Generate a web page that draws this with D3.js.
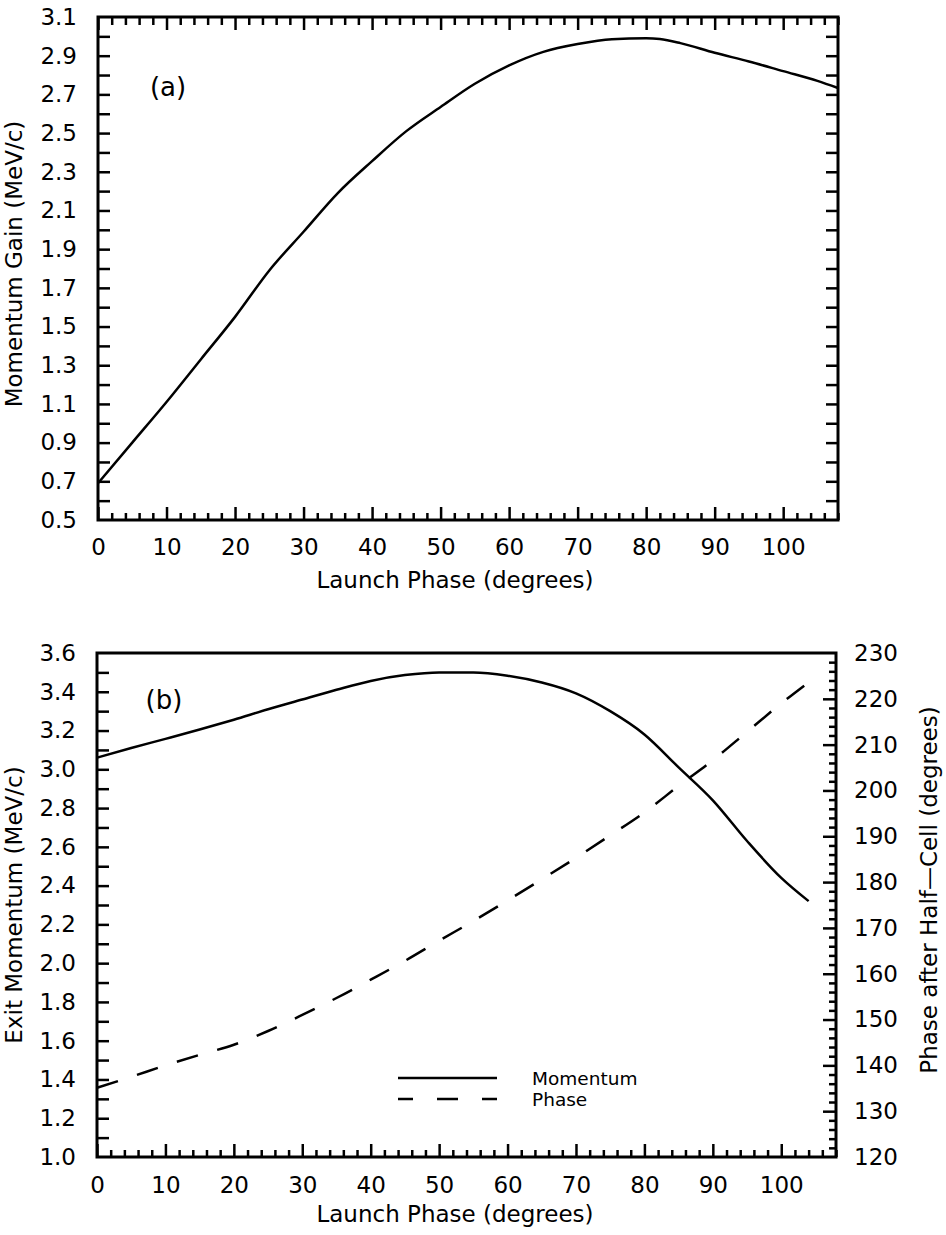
<!DOCTYPE html>
<html>
<head>
<meta charset="utf-8">
<script src="https://cdn.jsdelivr.net/npm/d3@7"></script>
<style>
  html, body { margin: 0; padding: 0; background: #fff; }
  svg { display: block; }
  text { font-family: "DejaVu Sans", sans-serif; fill: #000; }
</style>
</head>
<body>
<svg id="chart" width="946" height="1235"></svg>
<script>
// (a) momentum gain vs launch phase
const launchPhaseA = [0, 5, 10, 15, 20, 25, 30, 35, 40, 45, 50, 55, 60, 65, 70, 75, 80, 82, 85, 90, 95, 100, 105, 108];
const momentumGain = [0.69, 0.90, 1.11, 1.33, 1.55, 1.79, 1.99, 2.19, 2.355, 2.51, 2.635, 2.755, 2.85, 2.92, 2.96, 2.985, 2.99, 2.986, 2.965, 2.915, 2.87, 2.82, 2.77, 2.733];

// (b) exit momentum and phase after half-cell vs launch phase
const launchPhaseB = [0, 5, 10, 15, 20, 25, 30, 35, 40, 45, 50, 55, 60, 65, 70, 75, 80, 85, 90, 95, 100, 104];
const exitMomentum = [3.06, 3.11, 3.157, 3.205, 3.256, 3.31, 3.36, 3.41, 3.456, 3.486, 3.50, 3.50, 3.483, 3.448, 3.392, 3.30, 3.18, 3.01, 2.84, 2.63, 2.44, 2.32];
const exitPhase = [135.1, 137.5, 140.0, 142.3, 144.5, 147.5, 151.0, 154.7, 158.7, 162.8, 167.2, 171.5, 176.0, 180.6, 185.3, 190.2, 195.2, 201.0, 206.6, 212.8, 219.0, 223.6];

// tick labels
const launchTickLabels = [0, 10, 20, 30, 40, 50, 60, 70, 80, 90, 100];
const gainTickLabels = [0.5, 0.7, 0.9, 1.1, 1.3, 1.5, 1.7, 1.9, 2.1, 2.3, 2.5, 2.7, 2.9, 3.1];
const momentumTickLabels = [1.0, 1.2, 1.4, 1.6, 1.8, 2.0, 2.2, 2.4, 2.6, 2.8, 3.0, 3.2, 3.4, 3.6];
const phaseTickLabels = [120, 130, 140, 150, 160, 170, 180, 190, 200, 210, 220, 230];

const svg = d3.select("#chart");
const FONT = 23;
const TICK_W = 2.5;

const boxA = { left: 98, right: 838, top: 17, bottom: 520 };
const boxB = { left: 97, right: 836, top: 653, bottom: 1157 };

// scales
const xA = d3.scaleLinear().domain([0, 108]).range([boxA.left, boxA.right]);
const yA = d3.scaleLinear().domain([0.5, 3.1]).range([boxA.bottom, boxA.top]);
const xB = d3.scaleLinear().domain([0, 108]).range([boxB.left, boxB.right]);
const yB = d3.scaleLinear().domain([1.0, 3.6]).range([boxB.bottom, boxB.top]);
const yB2 = d3.scaleLinear().domain([120, 230]).range([boxB.bottom, boxB.top]);

// tick-only axis (marks point into the plot)
function tickMarks(axisFn, scale, values, len, transform) {
  const g = svg.append("g").attr("transform", transform)
    .call(axisFn(scale).tickValues(values).tickSize(-len).tickSizeOuter(0).tickFormat(""));
  g.select(".domain").remove();
  g.selectAll("line").attr("stroke", "#000").attr("stroke-width", TICK_W);
  return g;
}

// label-only axis
function tickLabels(axisFn, scale, values, pad, fmt, transform) {
  const g = svg.append("g").attr("transform", transform)
    .call(axisFn(scale).tickValues(values).tickSize(0).tickSizeOuter(0).tickPadding(pad).tickFormat(fmt));
  g.select(".domain").remove();
  g.selectAll("line").remove();
  g.attr("font-family", null).attr("font-size", null);
  g.selectAll("text").style("font-size", FONT + "px");
  return g;
}

const every2 = d3.range(0, 108.001, 2);
const minor2 = every2.filter(v => Math.round(v) % 10 !== 0);
const major10 = every2.filter(v => Math.round(v) % 10 === 0);

// ---------- panel (a) ----------
tickMarks(d3.axisBottom, xA, minor2, 7, `translate(0,${boxA.bottom})`);
tickMarks(d3.axisBottom, xA, major10, 13, `translate(0,${boxA.bottom})`);
tickMarks(d3.axisTop, xA, minor2, 8, `translate(0,${boxA.top})`);
tickMarks(d3.axisTop, xA, major10, 13, `translate(0,${boxA.top})`);
const gainSteps = d3.range(6, 31).map(v => v / 10);
tickMarks(d3.axisLeft, yA, gainSteps, 12, `translate(${boxA.left},0)`);
tickMarks(d3.axisRight, yA, gainSteps, 12, `translate(${boxA.right},0)`);

tickLabels(d3.axisBottom, xA, launchTickLabels, 19, d3.format("d"), `translate(0,${boxA.bottom})`);
tickLabels(d3.axisLeft, yA, gainTickLabels, 21, d3.format(".1f"), `translate(${boxA.left},0)`);

svg.append("rect")
  .attr("x", boxA.left).attr("y", boxA.top)
  .attr("width", boxA.right - boxA.left).attr("height", boxA.bottom - boxA.top)
  .attr("fill", "none").attr("stroke", "#000").attr("stroke-width", 3);

const lineA = d3.line().x((d, i) => xA(launchPhaseA[i])).y(d => yA(d)).curve(d3.curveMonotoneX);
svg.append("path").datum(momentumGain)
  .attr("d", lineA).attr("fill", "none").attr("stroke", "#000")
  .attr("stroke-width", 2.5).attr("stroke-linejoin", "round");

svg.append("text").attr("x", 168).attr("y", 96).attr("text-anchor", "middle")
  .style("font-size", "26px").text("(a)");

svg.append("text").attr("x", 455).attr("y", 588).attr("text-anchor", "middle")
  .style("font-size", FONT + "px").text("Launch Phase (degrees)");

svg.append("text").attr("transform", "translate(22,264) rotate(-90)")
  .attr("text-anchor", "middle").style("font-size", FONT + "px")
  .text("Momentum Gain (MeV/c)");

// ---------- panel (b) ----------
tickMarks(d3.axisBottom, xB, minor2, 7, `translate(0,${boxB.bottom})`);
tickMarks(d3.axisBottom, xB, major10, 13, `translate(0,${boxB.bottom})`);
const momSteps = d3.range(11, 36).map(v => v / 10);
tickMarks(d3.axisLeft, yB, momSteps, 12, `translate(${boxB.left},0)`);
const phaseEvery2 = d3.range(122, 229, 2);
tickMarks(d3.axisRight, yB2, phaseEvery2.filter(v => v % 10 !== 0), 7, `translate(${boxB.right},0)`);
tickMarks(d3.axisRight, yB2, phaseEvery2.filter(v => v % 10 === 0), 13, `translate(${boxB.right},0)`);

tickLabels(d3.axisBottom, xB, launchTickLabels, 20, d3.format("d"), `translate(0,${boxB.bottom})`);
tickLabels(d3.axisLeft, yB, momentumTickLabels, 21, d3.format(".1f"), `translate(${boxB.left},0)`);
tickLabels(d3.axisRight, yB2, phaseTickLabels, 18, d3.format("d"), `translate(${boxB.right},0)`);

svg.append("rect")
  .attr("x", boxB.left).attr("y", boxB.top)
  .attr("width", boxB.right - boxB.left).attr("height", boxB.bottom - boxB.top)
  .attr("fill", "none").attr("stroke", "#000").attr("stroke-width", 3);

const lineMom = d3.line().x((d, i) => xB(launchPhaseB[i])).y(d => yB(d)).curve(d3.curveMonotoneX);
const linePh = d3.line().x((d, i) => xB(launchPhaseB[i])).y(d => yB2(d)).curve(d3.curveMonotoneX);

svg.append("path").datum(exitMomentum)
  .attr("d", lineMom).attr("fill", "none").attr("stroke", "#000").attr("stroke-width", 2.5);
svg.append("path").datum(exitPhase)
  .attr("d", linePh).attr("fill", "none").attr("stroke", "#000").attr("stroke-width", 2.5)
  .attr("stroke-dasharray", "22,20");

svg.append("text").attr("x", 164).attr("y", 709).attr("text-anchor", "middle")
  .style("font-size", "26px").text("(b)");

// legend
const legend = svg.append("g").attr("transform", "translate(398,1078)");
legend.append("line").attr("x1", 0).attr("x2", 99).attr("y1", 0).attr("y2", 0)
  .attr("stroke", "#000").attr("stroke-width", 2.5);
legend.append("line").attr("x1", 0).attr("x2", 99).attr("y1", 21).attr("y2", 21)
  .attr("stroke", "#000").attr("stroke-width", 2.5)
  .attr("stroke-dasharray", "21,24").attr("stroke-dashoffset", 6);
legend.append("text").attr("x", 134).attr("y", 7).style("font-size", "18.5px").text("Momentum");
legend.append("text").attr("x", 134).attr("y", 28).style("font-size", "18.5px").text("Phase");

svg.append("text").attr("x", 455).attr("y", 1222).attr("text-anchor", "middle")
  .style("font-size", FONT + "px").text("Launch Phase (degrees)");

svg.append("text").attr("transform", "translate(22,905) rotate(-90)")
  .attr("text-anchor", "middle").style("font-size", FONT + "px")
  .text("Exit Momentum (MeV/c)");

svg.append("text").attr("transform", "translate(937,890) rotate(-90)")
  .attr("text-anchor", "middle").style("font-size", FONT + "px")
  .text("Phase after Half\u2014Cell (degrees)");
</script>
</body>
</html>
